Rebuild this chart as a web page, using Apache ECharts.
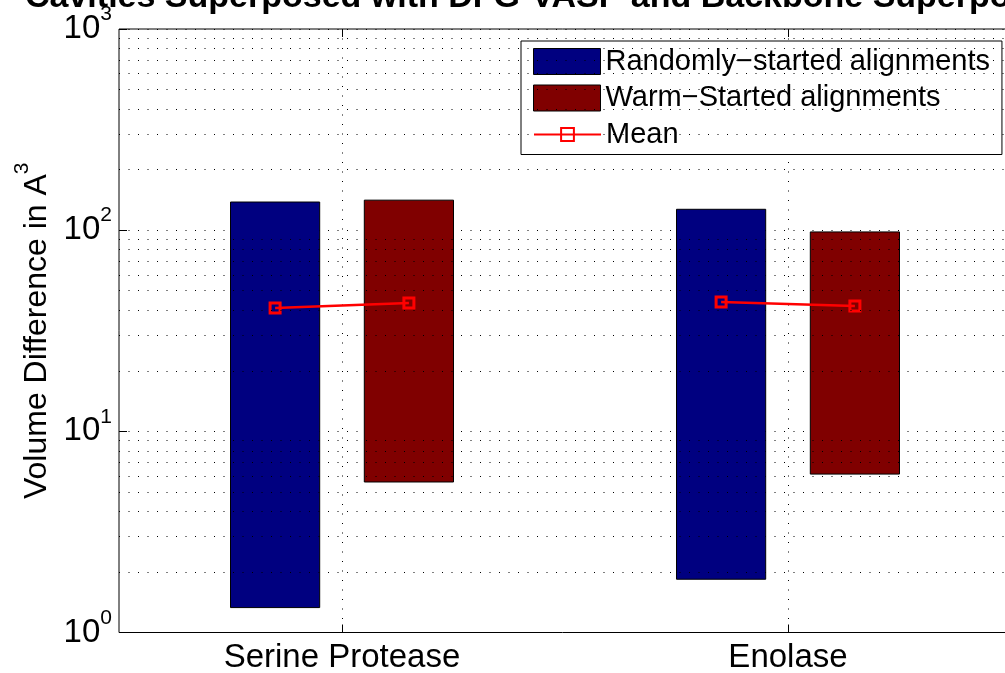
<!DOCTYPE html>
<html>
<head>
<meta charset="utf-8">
<script src="https://cdn.jsdelivr.net/npm/echarts@6/dist/echarts.min.js"></script>
<style>
  html, body { margin: 0; padding: 0; background: #fff; }
  #chart { width: 1005px; height: 673px; }
</style>
</head>
<body>
<div id="chart"></div>
<script>
// Volume difference ranges (min .. max) and means per protein family, in cubic Angstrom
const categories = ['Serine Protease', 'Enolase'];
const randomLow  = [1.33, 1.84];
const randomHigh = [138, 127];
const randomMean = [41, 44];
const warmLow    = [5.6, 6.13];
const warmHigh   = [141, 98];
const warmMean   = [43.4, 42];
const seriesNames = ['Randomly\u2212started alignments', 'Warm\u2212Started alignments', 'Mean'];
const titleText = 'Cavities Superposed with DFG-VASP and Backbone Superposed';

const FONT = '"Liberation Sans", Arial, Helvetica, sans-serif';
const BAR_OFFSET = 0.15;   // group offset of each bar from the category centre
const BAR_HALF = 0.1;      // half bar width, in category units
const BLUE = '#000080', DARKRED = '#800000', RED = '#ff0000';
const GRID_DOT = { color: '#000', width: 1, type: [1, 8.5] };

const tickPositions = categories.map((c, i) => i + 1);

function rangeData(low, high, offset) {
  return categories.map((c, i) => [i + 1 + offset, low[i], high[i]]);
}

function renderRange(color) {
  return function (params, api) {
    const x = api.value(0);
    const tl = api.coord([x - BAR_HALF, api.value(2)]);
    const br = api.coord([x + BAR_HALF, api.value(1)]);
    return {
      type: 'rect',
      shape: { x: tl[0], y: tl[1], width: br[0] - tl[0], height: br[1] - tl[1] },
      style: { fill: color, stroke: '#000', lineWidth: 1 }
    };
  };
}

// log-scale minor grid: 2..9 within every decade
const minorLines = [];
for (let d = 1; d < 1000; d *= 10) {
  for (let k = 2; k <= 9; k++) minorLines.push({ yAxis: k * d });
}

const meanSeries = categories.map((c, i) => ({
  name: seriesNames[2],
  type: 'line',
  z: 4,
  symbol: 'rect',
  symbolSize: 10,
  itemStyle: { color: 'rgba(0,0,0,0)', borderColor: RED, borderWidth: 3 },
  lineStyle: { color: RED, width: 2.5 },
  data: [[i + 1 - BAR_OFFSET, randomMean[i]], [i + 1 + BAR_OFFSET, warmMean[i]]]
}));

const xAxisBase = {
  type: 'value', min: 0.5, max: 2.5,
  axisLine: { show: false },
  axisTick: { show: true, inside: true, length: 8, customValues: tickPositions, lineStyle: { color: '#000', width: 1 } }
};

// superscript style: a tall base line box lets the exponent sit at its top
const supRich = (baseSize) => ({
  b: { fontSize: baseSize, fontFamily: FONT, color: '#000', lineHeight: 50 },
  e: { fontSize: 21, fontFamily: FONT, color: '#000', verticalAlign: 'top' }
});

const option = {
  animation: false,
  backgroundColor: '#fff',
  graphic: [{
    type: 'text', x: 25, y: -19, z: 10,
    style: { text: titleText, font: 'bold 34px ' + FONT, fill: '#000', align: 'left', verticalAlign: 'top' }
  }],
  grid: {
    left: 119, top: 29, width: 892, height: 603.5,
    outerBoundsMode: 'none', containLabel: false,
    show: true, borderColor: '#000', borderWidth: 1, backgroundColor: 'transparent'
  },
  legend: [{
    data: [
      { name: seriesNames[0], itemStyle: { color: BLUE, borderColor: '#000', borderWidth: 1 } },
      { name: seriesNames[1], itemStyle: { color: DARKRED, borderColor: '#000', borderWidth: 1 } }
    ],
    orient: 'vertical', left: 521, top: 41,
    padding: [6, 12, 42, 12], itemGap: 7.5,
    itemWidth: 67, itemHeight: 26, icon: 'rect',
    textStyle: { fontSize: 29, fontFamily: FONT, color: '#000' },
    borderColor: '#000', borderWidth: 1, backgroundColor: '#fff',
    selectedMode: false, z: 5
  }, {
    data: [seriesNames[2]],
    orient: 'vertical', left: 533, top: 120, padding: 0,
    itemWidth: 67, itemHeight: 16,
    textStyle: { fontSize: 29, fontFamily: FONT, color: '#000' },
    selectedMode: false, z: 6
  }],
  xAxis: [Object.assign({}, xAxisBase, {
    position: 'bottom',
    axisLabel: {
      customValues: tickPositions,
      formatter: v => categories[Math.round(v) - 1],
      fontSize: 33, fontFamily: FONT, color: '#000', margin: 9
    },
    splitLine: { show: true, lineStyle: GRID_DOT }
  }), Object.assign({}, xAxisBase, {
    position: 'top',
    axisLabel: { show: false },
    splitLine: { show: false }
  })],
  yAxis: {
    type: 'log', logBase: 10, min: 1, max: 1000,
    axisLine: { show: false },
    axisTick: { show: true, inside: true, length: 8, lineStyle: { color: '#000' } },
    axisLabel: {
      margin: 7,
      formatter: v => '{b|10}{e|' + Math.round(Math.log10(v)) + '}',
      rich: supRich(33)
    },
    splitLine: { show: true, lineStyle: GRID_DOT },
    name: '{b|Volume Difference in A}{e|3}',
    nameLocation: 'middle', nameGap: 57,
    nameTextStyle: { rich: supRich(32) }
  },
  series: [{
    type: 'line', data: [], z: 1, silent: true,
    markLine: {
      silent: true, symbol: ['none', 'none'], label: { show: false },
      lineStyle: GRID_DOT, emphasis: { disabled: true },
      data: minorLines
    }
  }, {
    name: seriesNames[0], type: 'custom', z: 3,
    itemStyle: { color: BLUE },
    encode: { x: 0, y: [1, 2] },
    renderItem: renderRange(BLUE),
    data: rangeData(randomLow, randomHigh, -BAR_OFFSET)
  }, {
    name: seriesNames[1], type: 'custom', z: 3,
    itemStyle: { color: DARKRED },
    encode: { x: 0, y: [1, 2] },
    renderItem: renderRange(DARKRED),
    data: rangeData(warmLow, warmHigh, BAR_OFFSET)
  }].concat(meanSeries)
};

const chart = echarts.init(document.getElementById('chart'), null, { renderer: 'canvas' });
chart.setOption(option);
</script>
</body>
</html>
